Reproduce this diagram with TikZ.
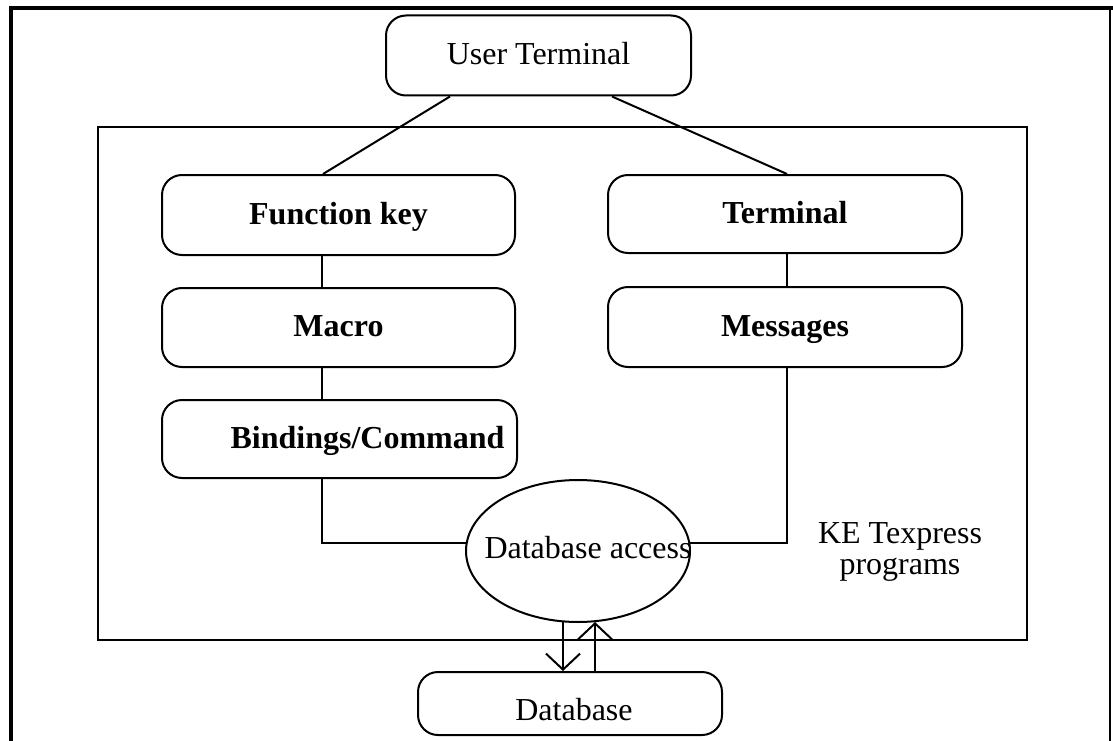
\documentclass[tikz,border=0pt]{standalone}
\usepackage{fontspec}
\setmainfont{Liberation Serif}
\usetikzlibrary{shapes.geometric,arrows.meta}
\begin{document}
\begin{tikzpicture}[x=1pt,y=-1pt,
  rbox/.style={draw,line width=2pt,rounded corners=20pt,inner sep=0pt,
    text height=24pt,text depth=6pt,
    font=\fontsize{32}{36}\selectfont},
  bbox/.style={rbox,font=\fontsize{32}{36}\selectfont\bfseries},
  conn/.style={line width=2pt},
  arr/.style={conn,-{Straight Barb[length=16pt,width=34pt]}},
  plain/.style={align=center,inner sep=0pt,font=\fontsize{32}{31}\selectfont}]
\useasboundingbox (0,0) rectangle (1113,741);
% outer frame
\draw[line width=4pt] (11,741) -- (11,8) -- (1113,8);
\draw[line width=1.5pt] (1110,8) -- (1110,741);
% program area
\draw[line width=2.5pt] (98,127) rectangle (1027,640);
\node[plain] (ke) at (900,552) {KE Texpress\\programs};
% nodes
\node[rbox,minimum width=305pt,minimum height=80pt] (ut) at (538.5,55.5) {User Terminal};
\node[bbox,minimum width=353pt,minimum height=80pt] (fk) at (338.5,215) {Function key};
\node[bbox,minimum width=354pt,minimum height=78pt] (term) at (785,214) {Terminal};
\node[bbox,minimum width=353pt,minimum height=79pt] (mac) at (338.5,327.5) {Macro};
\node[bbox,minimum width=354pt,minimum height=80pt] (msg) at (785,327) {Messages};
\node[bbox,minimum width=355pt,minimum height=78pt] (bind) at (339.5,439) {\hspace*{56pt}Bindings/Command};
\node[draw,ellipse,line width=2pt,inner sep=0pt,minimum width=224pt,minimum height=142pt] (acc) at (578,551) {};
\node[inner sep=0pt,text height=22pt,text depth=7pt,font=\fontsize{32}{36}\selectfont] (acctext) at (588,551) {Database access};
\node[rbox,minimum width=304pt,minimum height=63pt,text height=33pt,text depth=0pt] (db) at (570,703.5) {\hspace*{8pt}Database};
% connectors
\draw[conn] ([xshift=-88.5pt]ut.south) -- ([xshift=-15.5pt]fk.north);
\draw[conn] ([xshift=73.5pt]ut.south) -- ([xshift=2pt]term.north);
\draw[conn] ([xshift=-16.5pt]fk.south) -- ([xshift=-16.5pt]mac.north);
\draw[conn] ([xshift=2pt]term.south) -- ([xshift=2pt]msg.north);
\draw[conn] ([xshift=-16.5pt]mac.south) -- ([xshift=-17.5pt]bind.north);
\draw[conn] ([xshift=-17.5pt]bind.south) |- (acc.176);
\draw[conn] ([xshift=2pt]msg.south) |- (acc.4);
\draw[arr] ([xshift=-15pt,yshift=1pt]acc.south) -- ([xshift=-7pt]db.north);
\draw[arr] ([xshift=25pt]db.north) -- ([xshift=17pt,yshift=1pt]acc.south);
\end{tikzpicture}
\end{document}
